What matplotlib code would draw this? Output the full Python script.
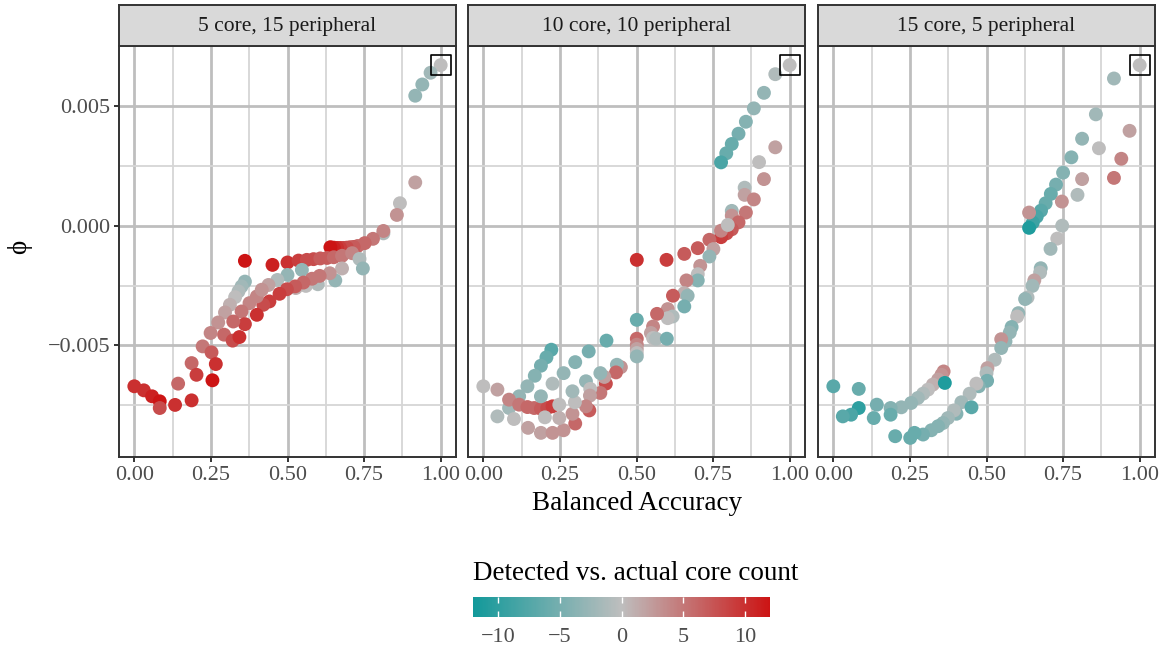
import matplotlib
matplotlib.use('Agg')
import matplotlib.pyplot as plt
from matplotlib.colors import LinearSegmentedColormap, Normalize
from matplotlib.cm import ScalarMappable
from matplotlib.ticker import FixedLocator

plt.rcParams['font.family'] = ['Liberation Serif', 'DejaVu Serif']

# ---- data ----
panel_titles = ['5 core, 15 peripheral', '10 core, 10 peripheral', '15 core, 5 peripheral']

# panel 1: 5 core, 15 peripheral
acc_5 = [1.000, 0.967, 0.940, 0.917, 0.917, 0.867, 0.857, 0.813, 0.813, 0.779,
         0.752, 0.729, 0.716, 0.705, 0.694, 0.683, 0.672, 0.662, 0.651, 0.640,
         0.500, 0.536, 0.563, 0.585, 0.607, 0.629, 0.651, 0.678, 0.711, 0.735,
         0.746, 0.678, 0.656, 0.547, 0.500, 0.467, 0.438, 0.599, 0.560, 0.527,
         0.638, 0.605, 0.580, 0.552, 0.525, 0.498, 0.474, 0.441, 0.421, 0.400,
         0.376, 0.361, 0.451, 0.361, 0.350, 0.340, 0.329, 0.312, 0.296, 0.274,
         0.249, 0.223, 0.187, 0.143, 0.350, 0.400, 0.361, 0.323, 0.293, 0.321,
         0.343, 0.252, 0.266, 0.203, 0.255, 0.000, 0.031, 0.058, 0.083, 0.083,
         0.133, 0.187, 0.416]
phi_5 = [0.00673, 0.00641, 0.00592, 0.00545, 0.00182, 0.00095, 0.00046, -0.00031, -0.00021, -0.00054,
         -0.00072, -0.00084, -0.00088, -0.00089, -0.00091, -0.00092, -0.00092, -0.00092, -0.00091, -0.00089,
         -0.00153, -0.00145, -0.00142, -0.00139, -0.00136, -0.00134, -0.00131, -0.00125, -0.00114, -0.00138,
         -0.00178, -0.00178, -0.00228, -0.00184, -0.00205, -0.00226, -0.00247, -0.00244, -0.00251, -0.00260,
         -0.00198, -0.00209, -0.00221, -0.00237, -0.00253, -0.00265, -0.00284, -0.00316, -0.00330, -0.00295,
         -0.00323, -0.00146, -0.00163, -0.00233, -0.00253, -0.00274, -0.00298, -0.00330, -0.00362, -0.00404,
         -0.00448, -0.00504, -0.00574, -0.00660, -0.00358, -0.00372, -0.00411, -0.00400, -0.00455, -0.00480,
         -0.00465, -0.00529, -0.00578, -0.00623, -0.00646, -0.00671, -0.00688, -0.00713, -0.00734, -0.00762,
         -0.00749, -0.00730, -0.00267]
diff_5 = [0, -2, -3, -3, 2, 0, 3, -1, 4, 5,
          6, 6, 7, 7, 8, 8, 9, 10, 11, 12,
          10, 9, 8, 8, 7, 7, 6, 5, 4, -1,
          -3, 1, -3, -3, -3, -1, 2, -1, 0, 1,
          3, 5, 5, 6, 7, 8, 9, 9, 8, 4,
          4, 12, 11, -3, -2, -1, 0, 1, 2, 3,
          4, 5, 6, 6, 5, 10, 9, 6, 6, 8,
          10, 7, 10, 9, 12, 10, 10, 11, 12, 8,
          10, 10, 3]

# panel 2: 10 core, 10 peripheral
acc_10 = [1.000, 0.953, 0.916, 0.883, 0.857, 0.833, 0.811, 0.793, 0.776, 0.953,
          0.900, 0.916, 0.853, 0.853, 0.883, 0.857, 0.811, 0.811, 0.833, 0.811,
          0.794, 0.776, 0.776, 0.798, 0.738, 0.751, 0.738, 0.700, 0.656, 0.598,
          0.501, 0.708, 0.700, 0.700, 0.663, 0.656, 0.667, 0.656, 0.619, 0.602,
          0.618, 0.602, 0.567, 0.554, 0.547, 0.554, 0.564, 0.599, 0.501, 0.501,
          0.501, 0.501, 0.501, 0.501, 0.402, 0.449, 0.436, 0.433, 0.400, 0.395,
          0.382, 0.382, 0.346, 0.335, 0.349, 0.348, 0.335, 0.300, 0.291, 0.299,
          0.291, 0.262, 0.262, 0.300, 0.344, 0.222, 0.206, 0.188, 0.168, 0.144,
          0.117, 0.084, 0.046, 0.100, 0.000, 0.046, 0.084, 0.117, 0.144, 0.166,
          0.188, 0.209, 0.226, 0.188, 0.226, 0.248, 0.201, 0.248, 0.146, 0.188,
          0.226]
phi_10 = [0.00673, 0.00635, 0.00557, 0.00492, 0.00436, 0.00386, 0.00343, 0.00304, 0.00266, 0.00329,
          0.00267, 0.00196, 0.00160, 0.00130, 0.00111, 0.00056, 0.00063, 0.00043, 0.00015, -0.00014,
          -0.00031, -0.00047, -0.00020, 0.00004, -0.00058, -0.00097, -0.00128, -0.00093, -0.00117, -0.00142,
          -0.00142, -0.00167, -0.00202, -0.00228, -0.00228, -0.00281, -0.00292, -0.00337, -0.00292, -0.00348,
          -0.00379, -0.00386, -0.00368, -0.00421, -0.00448, -0.00469, -0.00472, -0.00472, -0.00393, -0.00472,
          -0.00497, -0.00515, -0.00532, -0.00546, -0.00480, -0.00591, -0.00581, -0.00613, -0.00660, -0.00632,
          -0.00616, -0.00699, -0.00772, -0.00650, -0.00682, -0.00710, -0.00755, -0.00827, -0.00786, -0.00738,
          -0.00692, -0.00616, -0.00855, -0.00570, -0.00525, -0.00518, -0.00550, -0.00585, -0.00627, -0.00671,
          -0.00713, -0.00762, -0.00797, -0.00808, -0.00671, -0.00685, -0.00727, -0.00748, -0.00758, -0.00762,
          -0.00765, -0.00762, -0.00755, -0.00713, -0.00660, -0.00748, -0.00801, -0.00804, -0.00845, -0.00866,
          -0.00866]
diff_10 = [0, -1, -3, -3, -4, -5, -6, -6, -8, 2,
           0, 3, -1, 2, 4, 5, -2, 3, 6, 7,
           8, 9, 4, 0, 6, 2, -3, 7, 7, 9,
           10, 3, 0, -4, 4, 1, -3, -5, 7, 3,
           -1, 0, 6, 4, 2, 0, -1, -5, -6, 6,
           4, 2, 0, -3, -6, 3, -3, 6, 8, 2,
           -3, 5, 7, -3, 0, 2, 4, 6, 3, 0,
           -2, -3, 3, -4, -5, -7, -6, -5, -4, -3,
           -3, -2, -1, 0, 0, 2, 4, 5, 6, 6,
           7, 8, 9, -3, -1, 0, 0, 1, 2, 2,
           3]

# panel 3: 15 core, 5 peripheral
acc_15 = [1.000, 0.916, 0.857, 0.812, 0.777, 0.750, 0.727, 0.710, 0.693, 0.678,
          0.664, 0.651, 0.639, 0.639, 0.967, 0.940, 0.916, 0.867, 0.812, 0.797,
          0.746, 0.747, 0.731, 0.709, 0.677, 0.675, 0.656, 0.650, 0.634, 0.626,
          0.604, 0.600, 0.582, 0.576, 0.562, 0.548, 0.548, 0.527, 0.503, 0.500,
          0.502, 0.475, 0.467, 0.445, 0.418, 0.451, 0.402, 0.394, 0.374, 0.358,
          0.342, 0.320, 0.293, 0.265, 0.251, 0.202, 0.360, 0.353, 0.342, 0.325,
          0.309, 0.293, 0.276, 0.254, 0.364, 0.222, 0.187, 0.187, 0.142, 0.132,
          0.083, 0.083, 0.058, 0.031, 0.000]
phi_15 = [0.00673, 0.00617, 0.00467, 0.00365, 0.00287, 0.00223, 0.00173, 0.00134, 0.00095, 0.00064,
          0.00039, 0.00014, -0.00008, 0.00056, 0.00398, 0.00281, 0.00201, 0.00325, 0.00196, 0.00130,
          0.00102, 0.00001, -0.00053, -0.00096, -0.00177, -0.00195, -0.00228, -0.00251, -0.00299, -0.00306,
          -0.00365, -0.00379, -0.00423, -0.00446, -0.00483, -0.00474, -0.00511, -0.00560, -0.00595, -0.00616,
          -0.00648, -0.00671, -0.00660, -0.00702, -0.00738, -0.00759, -0.00786, -0.00772, -0.00804, -0.00825,
          -0.00838, -0.00855, -0.00873, -0.00866, -0.00887, -0.00880, -0.00609, -0.00623, -0.00643, -0.00664,
          -0.00685, -0.00702, -0.00720, -0.00741, -0.00657, -0.00759, -0.00762, -0.00790, -0.00748, -0.00804,
          -0.00682, -0.00762, -0.00790, -0.00797, -0.00671]
diff_15 = [0, -2, -2, -3, -4, -4, -5, -6, -6, -7,
           -8, -9, -11, 3, 2, 4, 5, 0, 2, -1,
           3, -1, 0, -2, -3, -1, 2, -2, -1, -3,
           -3, 0, -4, -3, -3, 3, -3, -1, 2, -1,
           -5, -4, 0, -1, -2, -7, -4, -1, -2, -3,
           -4, -4, -5, -6, -6, -6, 4, 3, 2, 1,
           0, -1, -2, -3, -11, -3, -4, -6, -5, -6,
           -6, -10, -8, -7, -7]

# the boxed point (perfect accuracy) in every panel
best_acc = [1.0]
best_phi = [0.00673]

color_limits = (-12, 12)
colorbar_ticks = [-10, -5, 0, 5, 10]


def style_panel(ax, title, show_y):
    '''Gives one axes the look of a ggplot theme_bw facet'''
    ax.set_xlim(-0.05, 1.05)
    ax.set_ylim(-0.00967, 0.00753)
    ax.xaxis.set_major_locator(FixedLocator([0, 0.25, 0.5, 0.75, 1.0]))
    ax.xaxis.set_minor_locator(FixedLocator([0.125, 0.375, 0.625, 0.875]))
    ax.yaxis.set_major_locator(FixedLocator([-0.005, 0.0, 0.005]))
    ax.yaxis.set_minor_locator(FixedLocator([-0.0075, -0.0025, 0.0025]))
    ax.set_xticklabels(['0.00', '0.25', '0.50', '0.75', '1.00'])
    ax.grid(which='major', color='#BEBEBE', linewidth=2.0)
    ax.grid(which='minor', color='#D6D6D6', linewidth=1.3)
    ax.set_axisbelow(True)
    for sp in ax.spines.values():
        sp.set_color('#333333')
        sp.set_linewidth(1.4)
    ax.tick_params(which='minor', length=0)
    ax.tick_params(which='major', length=3.8, width=1.4, color='#333333',
                   labelcolor='#4D4D4D', labelsize=16, pad=2.5)
    if show_y:
        ax.set_yticklabels(['\u22120.005', '0.000', '0.005'])
    else:
        ax.tick_params(axis='y', left=False, labelleft=False)
    # facet strip on top
    strip = ax.inset_axes([0, 1.0, 1, 0.0998])
    strip.set_facecolor('#D9D9D9')
    strip.set_xticks([])
    strip.set_yticks([])
    for sp in strip.spines.values():
        sp.set_color('#333333')
        sp.set_linewidth(1.4)
    strip.text(0.5, 0.48, title, ha='center', va='center',
               fontsize=15.5, color='#1A1A1A', transform=strip.transAxes)


def main():
    cmap = LinearSegmentedColormap.from_list('core', ['#12999A', '#BEBEBE', '#CC1414'])
    norm = Normalize(*color_limits)

    fig = plt.figure(figsize=(11.66, 6.5), dpi=100)
    lefts = [119 / 1166, 468 / 1166, 818 / 1166]
    panels = [(acc_5, phi_5, diff_5), (acc_10, phi_10, diff_10), (acc_15, phi_15, diff_15)]

    for i, (x, y, c) in enumerate(panels):
        ax = fig.add_axes([lefts[i], 193 / 650, 337 / 1166, 411 / 650])
        style_panel(ax, panel_titles[i], i == 0)
        ax.scatter(x, y, c=c, cmap=cmap, norm=norm, s=100, linewidths=0, zorder=3)
        ax.scatter(best_acc, best_phi, marker='s', s=200, facecolors='none',
                   edgecolors='black', linewidths=1.2, zorder=4)

    fig.text(637 / 1166, (650 - 504) / 650, 'Balanced Accuracy', ha='center', va='center',
             fontsize=19.5)
    fig.text(20 / 1166, (650 - 247) / 650, '\u03d5', ha='center', va='center',
             rotation=90, fontsize=19.5)

    # colour legend
    cax = fig.add_axes([473 / 1166, 33 / 650, 297 / 1166, 20 / 650])
    cb = fig.colorbar(ScalarMappable(norm=norm, cmap=cmap), cax=cax, orientation='horizontal')
    cb.outline.set_visible(False)
    cb.set_ticks(colorbar_ticks)
    cb.set_ticklabels(['\u221210', '\u22125', '0', '5', '10'])
    cax.tick_params(axis='x', direction='in', top=True, bottom=True, length=4, width=1,
                    color='white', labelcolor='#4D4D4D', labelsize=16, pad=8)
    fig.text(473 / 1166, (650 - 573) / 650, 'Detected vs. actual core count',
             ha='left', va='center', fontsize=19.5)

    fig.savefig('out.png', dpi=100)


if __name__ == '__main__':
    main()
